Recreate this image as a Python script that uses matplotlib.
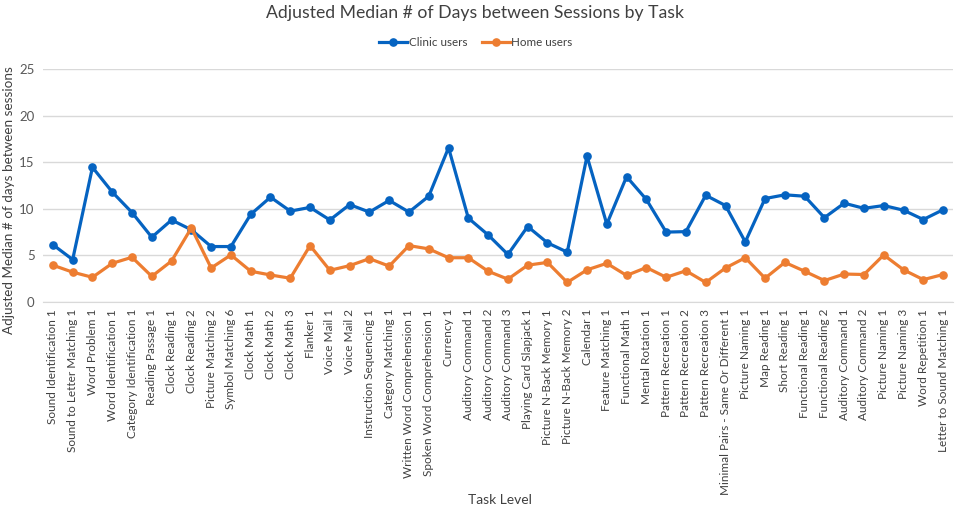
import numpy as np
import matplotlib
matplotlib.use('Agg')
from matplotlib import pyplot as plt

tasks = ['Sound Identification 1', 'Sound to Letter Matching 1', 'Word Problem 1',
         'Word Identification 1', 'Category Identification 1', 'Reading Passage 1',
         'Clock Reading 1', 'Clock Reading 2', 'Picture Matching 2', 'Symbol Matching 6',
         'Clock Math 1', 'Clock Math 2', 'Clock Math 3', 'Flanker 1', 'Voice Mail 1',
         'Voice Mail 2', 'Instruction Sequencing 1', 'Category Matching 1',
         'Written Word Comprehension 1', 'Spoken Word Comprehension 1', 'Currency 1',
         'Auditory Command 1', 'Auditory Command 2', 'Auditory Command 3',
         'Playing Card Slapjack 1', 'Picture N-Back Memory 1', 'Picture N-Back Memory 2',
         'Calendar 1', 'Feature Matching 1', 'Functional Math 1', 'Mental Rotation 1',
         'Pattern Recreation 1', 'Pattern Recreation 2', 'Pattern Recreation 3',
         'Minimal Pairs - Same Or Different 1', 'Picture Naming 1', 'Map Reading 1',
         'Short Reading 1', 'Functional Reading 1', 'Functional Reading 2',
         'Auditory Command 1', 'Auditory Command 2', 'Picture Naming 1',
         'Picture Naming 3', 'Word Repetition 1', 'Letter to Sound Matching 1']

clinic = [6.15, 4.55, 14.45, 11.8, 9.6, 6.95, 8.8, 7.75, 5.95, 5.95,
          9.4, 11.25, 9.75, 10.15, 8.8, 10.45, 9.65, 10.9, 9.65, 11.35,
          16.55, 9.0, 7.2, 5.1, 8.1, 6.35, 5.35, 15.65, 8.35, 13.45,
          11.0, 7.5, 7.55, 11.45, 10.35, 6.45, 11.1, 11.5, 11.35, 9.05,
          10.6, 10.05, 10.35, 9.85, 8.85, 9.9]

home = [3.95, 3.2, 2.65, 4.15, 4.8, 2.75, 4.4, 7.95, 3.65, 5.05,
        3.3, 2.9, 2.55, 6.05, 3.4, 3.9, 4.65, 3.85, 6.05, 5.7,
        4.75, 4.75, 3.3, 2.45, 3.95, 4.25, 2.1, 3.45, 4.15, 2.85,
        3.7, 2.65, 3.35, 2.1, 3.65, 4.75, 2.55, 4.25, 3.3, 2.3,
        3.0, 2.95, 5.05, 3.45, 2.4, 2.95]

plt.rcParams['font.family'] = ['Lato', 'DejaVu Sans']

W, H = 957, 512
fig = plt.figure(figsize=(W / 100, H / 100), dpi=100)
ax = fig.add_axes([43 / W, 1 - 302 / H, 910 / W, 233 / H])

x = np.arange(len(tasks))
ax.plot(x, clinic, color='#0563C1', lw=2.3, marker='o', ms=5.2, label='Clinic users')
ax.plot(x, home, color='#ED7D31', lw=2.3, marker='o', ms=5.2, label='Home users')

ax.set_xlim(-0.5, len(tasks) - 0.5)
ax.set_ylim(0, 25)
ax.set_yticks([0, 5, 10, 15, 20, 25])
ax.yaxis.grid(True, color='#D9D9D9', lw=1)
ax.set_axisbelow(True)
for s in ['top', 'right', 'left']:
    ax.spines[s].set_visible(False)
ax.spines['bottom'].set_color('#D9D9D9')
ax.tick_params(axis='y', length=0, labelsize=9.5, colors='#595959', pad=6)
ax.tick_params(axis='x', length=0, labelsize=8.5, colors='#404040', pad=5)
ax.set_xticks(x)
ax.set_xticklabels(tasks, rotation=90)

# axis titles placed in figure pixels
fig.text(9 / W, 1 - 200 / H, 'Adjusted Median # of days between sessions', rotation=90,
         ha='center', va='center', fontsize=9.7, color='#404040')
fig.text(500 / W, 1 - 500 / H, 'Task Level', ha='center', va='center',
         fontsize=10, color='#404040')
fig.text(475 / W, 1 - 13 / H, 'Adjusted Median # of Days between Sessions by Task',
         ha='center', va='center', fontsize=12.7, color='#404040')
fig.legend(loc='center', bbox_to_anchor=(476 / W, 1 - 43 / H), ncol=2, frameon=False,
           fontsize=8.4, labelcolor='#404040', handlelength=2.4, handletextpad=0.15,
           columnspacing=1.2)

fig.savefig('out.png', dpi=100)
